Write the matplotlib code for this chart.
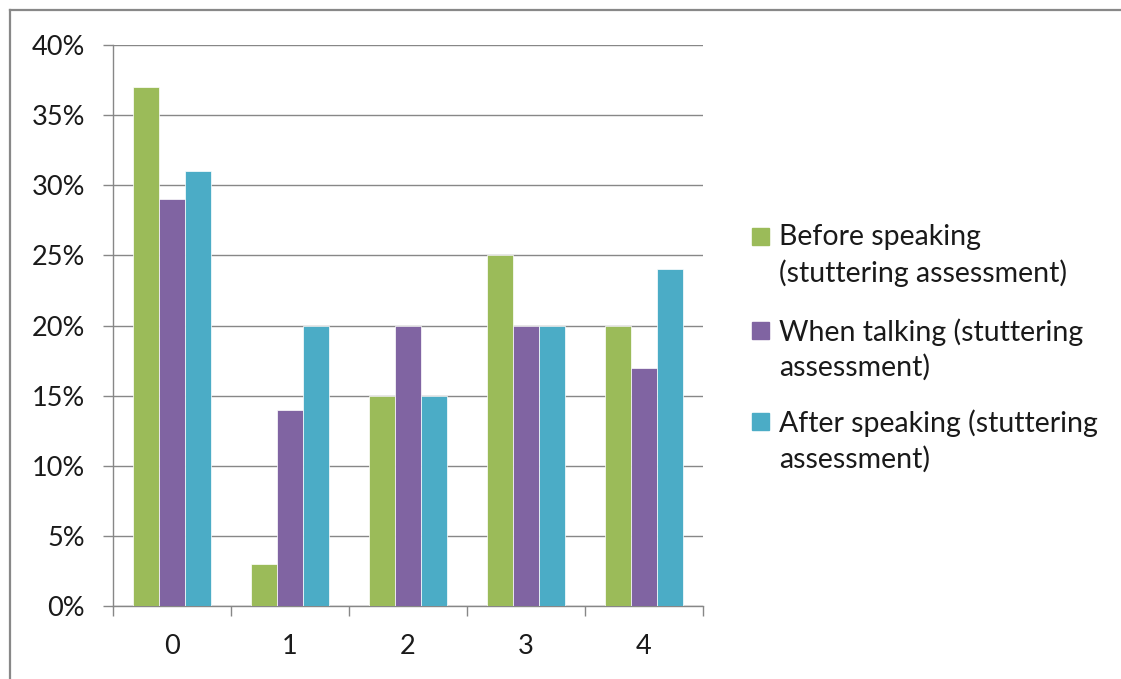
import numpy as np
import matplotlib.pyplot as plt
from matplotlib.lines import Line2D
from matplotlib.patches import Rectangle
from matplotlib.ticker import FuncFormatter, MultipleLocator

plt.rcParams['font.family'] = ['Lato', 'DejaVu Sans']

# stuttering score groups and share of respondents per stage
categories = ['0', '1', '2', '3', '4']
before = [37, 3, 15, 25, 20]
during = [29, 14, 20, 20, 17]
after = [31, 20, 15, 20, 24]
series_names = ['Before speaking\n(stuttering assessment)',
                'When talking (stuttering\nassessment)',
                'After speaking (stuttering\nassessment)']
colors = ['#9BBB59', '#8064A2', '#4BACC6']

W, H = 1121, 679
fig = plt.figure(figsize=(W / 100, H / 100), dpi=100)
ax = fig.add_axes([113 / W, 1 - 606 / H, 590 / W, 561 / H])

x = np.arange(len(categories))
bw = 1 / 4.5  # 150% gap width
for i, vals in enumerate([before, during, after]):
    ax.bar(x + (i - 1) * bw, vals, width=bw, color=colors[i],
           edgecolor='white', linewidth=0.5, zorder=3)

grid_c = '#878787'
txt_c = '#1a1a1a'
fs = 19.5
ax.set_xlim(-0.5, len(categories) - 0.5)
ax.set_ylim(0, 40)
ax.yaxis.set_major_locator(MultipleLocator(5))
ax.yaxis.set_major_formatter(FuncFormatter(lambda v, p: f'{v:.0f}%'))
ax.grid(axis='y', color=grid_c, linewidth=1, zorder=0)
ax.set_axisbelow(True)

ax.set_xticks(x)
ax.set_xticklabels(categories)
ax.set_xticks(np.arange(-0.5, len(categories)), minor=True)
ax.tick_params(axis='x', which='major', length=0, pad=20, labelsize=fs, labelcolor=txt_c)
ax.tick_params(axis='x', which='minor', length=7, width=1, color=grid_c)
ax.tick_params(axis='y', length=7, width=1, color=grid_c, pad=13, labelsize=fs, labelcolor=txt_c)

for s in ['top', 'right']:
    ax.spines[s].set_visible(False)
for s in ['left', 'bottom']:
    ax.spines[s].set_color(grid_c)
    ax.spines[s].set_linewidth(1)

# legend: square swatch beside first line of each label
leg_y = [236, 330, 421]
for name, c, yy in zip(series_names, colors, leg_y):
    fig.patches.append(Rectangle((752 / W, 1 - (yy + 9) / H), 17 / W, 17 / H,
                                 transform=fig.transFigure, color=c))
    fig.text(779 / W, 1 - (yy - 12) / H, name, fontsize=20.5, color=txt_c,
             va='top', ha='left', linespacing=1.4)

# chart frame
fig.add_artist(Line2D([10 / W, 1], [1 - 10 / H, 1 - 10 / H], transform=fig.transFigure,
                      color='#888888', linewidth=1.6))
fig.add_artist(Line2D([10 / W, 10 / W], [0, 1 - 10 / H], transform=fig.transFigure,
                      color='#888888', linewidth=1.6))

fig.savefig('out.png', dpi=100)
